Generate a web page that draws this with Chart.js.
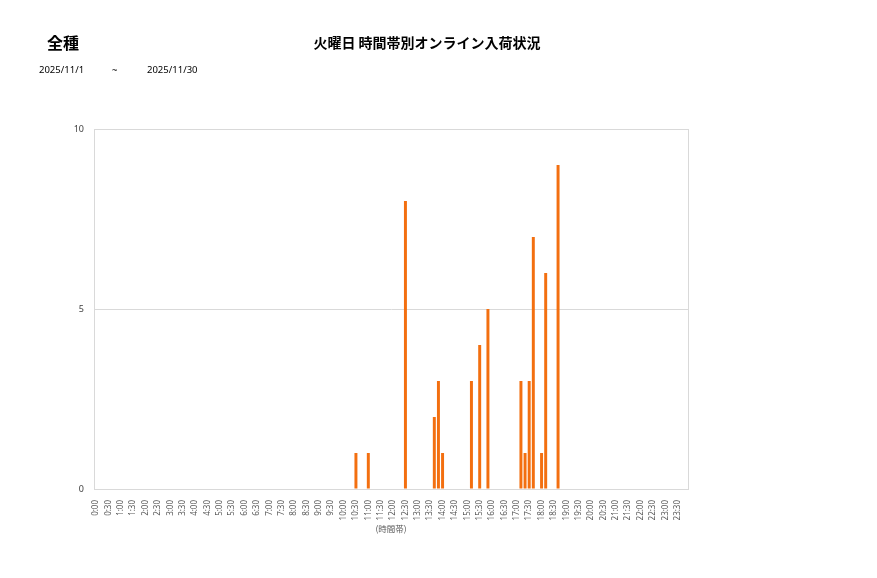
<!DOCTYPE html>
<html lang="ja">
<head>
    <meta charset="UTF-8">
    <title>火曜日 時間帯別オンライン入荷状況</title>
    <script src="https://cdn.jsdelivr.net/npm/chart.js@4.4.1/dist/chart.umd.min.js"></script>
    <style>
        body {
            margin: 0;
            background: #ffffff;
            font-family: 'Noto Sans CJK JP', 'Noto Sans', sans-serif;
        }
        .wrap {
            position: relative;
            width: 877px;
            height: 578px;
        }
        .txt {
            position: absolute;
            white-space: nowrap;
            color: #000;
            line-height: 1;
        }
        .kind { left: 47px; top: 34px; font-size: 16px; font-weight: bold; }
        .title { left: 0; width: 854px; text-align: center; top: 35px; font-size: 14px; font-weight: bold; }
        .date { top: 65px; font-size: 9.5px; font-family: 'Noto Sans', sans-serif; }
        .axis-title { left: 341px; width: 100px; text-align: center; top: 524px; font-size: 8.5px; color: #595959; }
    </style>
</head>
<body>
<div class="wrap">
    <canvas id="chart" width="877" height="578"></canvas>
    <div class="txt kind">全種</div>
    <div class="txt title">火曜日 時間帯別オンライン入荷状況</div>
    <div class="txt date" style="left:39px">2025/11/1</div>
    <div class="txt date" style="left:112px">~</div>
    <div class="txt date" style="left:147px">2025/11/30</div>
    <div class="txt axis-title">(時間帯)</div>
</div>
<script>
    // 10-minute slots, only non-zero ones listed
    const arrivalTimes  = ['10:30', '11:00', '12:30', '13:40', '13:50', '14:00', '15:10', '15:30', '15:50',
                           '17:10', '17:20', '17:30', '17:40', '18:00', '18:10', '18:40'];
    const arrivalCounts = [1, 1, 8, 2, 3, 1, 3, 4, 5, 3, 1, 3, 7, 1, 6, 9];
    const yTicks = [0, 5, 10];

    // category labels for every 10 minutes of the day
    const slots = [];
    for (let h = 0; h < 24; h++) {
        for (let m = 0; m < 60; m += 10) {
            slots.push(h + ':' + (m < 10 ? '0' + m : m));
        }
    }

    const values = slots.map(s => {
        const i = arrivalTimes.indexOf(s);
        return i >= 0 ? arrivalCounts[i] : 0;
    });

    const frame = {
        id: 'frame',
        afterDraw(chart) {
            const {ctx, chartArea: a} = chart;
            ctx.save();
            ctx.strokeStyle = '#d9d9d9';
            ctx.lineWidth = 1;
            ctx.strokeRect(a.left + 0.5, a.top + 0.5, a.right - a.left, a.bottom - a.top);
            ctx.restore();
        }
    };

    new Chart(document.getElementById('chart'), {
        type: 'bar',
        data: {
            labels: slots,
            datasets: [{
                data: values,
                backgroundColor: '#f36f10',
                barPercentage: 0.72,
                categoryPercentage: 1.0
            }]
        },
        options: {
            responsive: false,
            animation: false,
            layout: { padding: { left: 0, right: 189, top: 129, bottom: 0 } },
            plugins: {
                legend: { display: false },
                tooltip: { enabled: false }
            },
            scales: {
                x: {
                    afterFit: s => { s.height = 89; },
                    grid: { display: false },
                    border: { color: '#d9d9d9' },
                    ticks: {
                        autoSkip: false,
                        maxRotation: 90,
                        minRotation: 90,
                        padding: 3,
                        color: '#595959',
                        font: { family: "'Noto Sans', sans-serif", size: 8 },
                        callback: function (v, i) {
                            return i % 3 === 0 ? this.getLabelForValue(v) : '';
                        }
                    }
                },
                y: {
                    min: 0,
                    max: 10,
                    afterFit: s => { s.width = 94; },
                    afterBuildTicks: s => { s.ticks = yTicks.map(v => ({ value: v })); },
                    grid: { color: '#d9d9d9', drawTicks: false },
                    border: { color: '#d9d9d9' },
                    ticks: {
                        padding: 10,
                        color: '#404040',
                        font: { family: "'Noto Sans', sans-serif", size: 9 }
                    }
                }
            }
        },
        plugins: [frame]
    });
</script>
</body>
</html>
